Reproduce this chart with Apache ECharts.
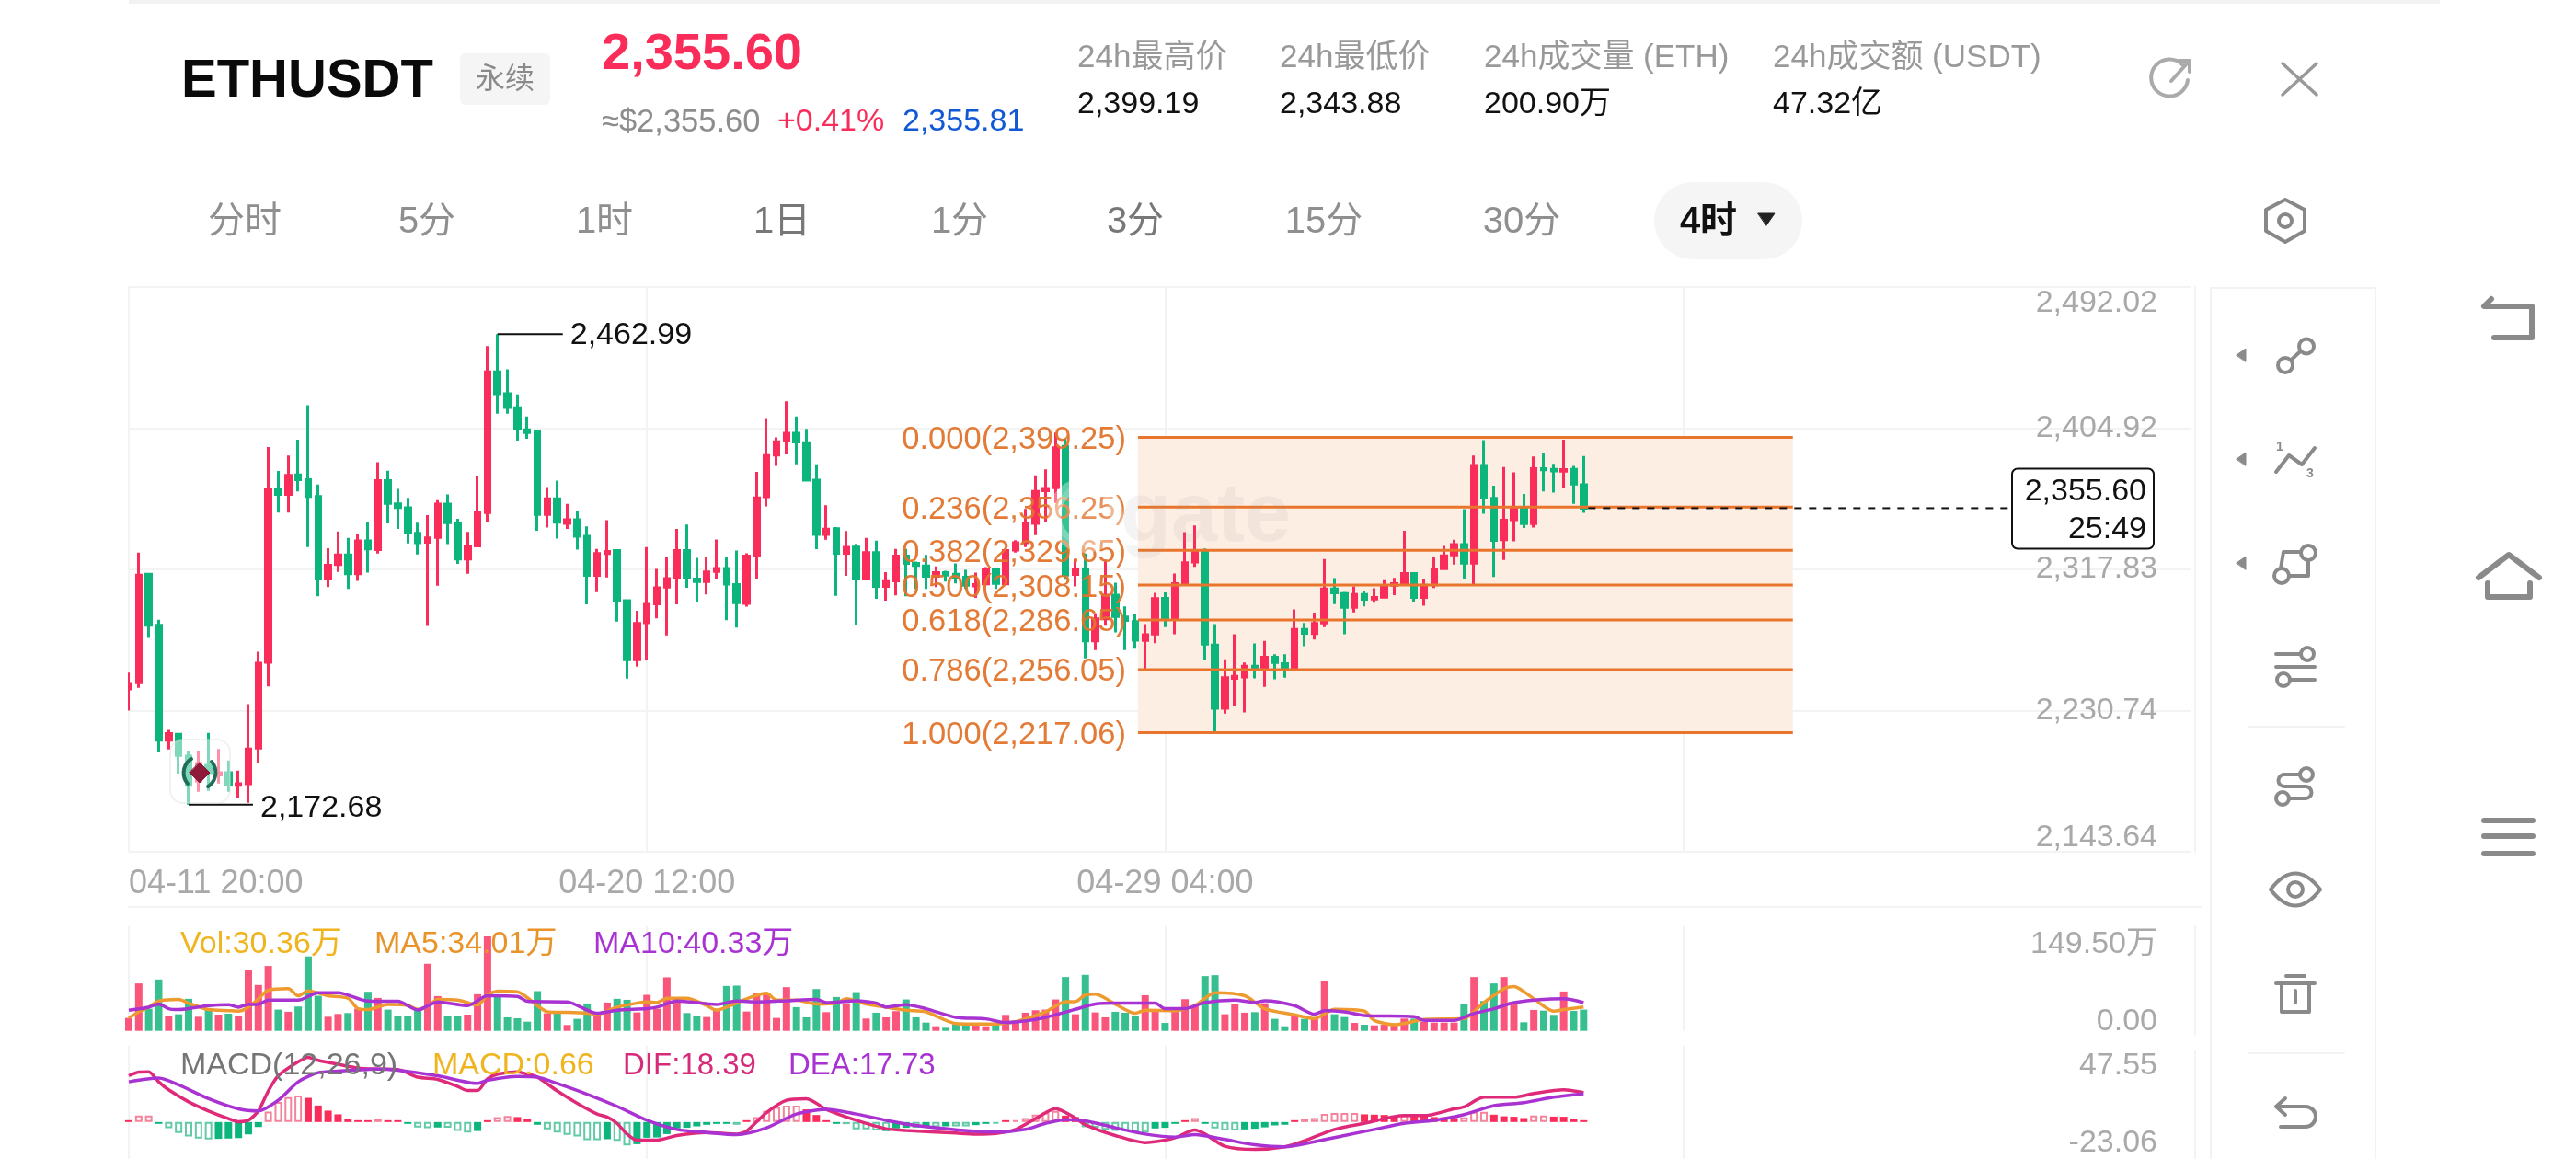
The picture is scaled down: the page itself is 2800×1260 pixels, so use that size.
<!DOCTYPE html>
<html><head><meta charset="utf-8"><style>html,body{margin:0;background:#fff}#c{width:2800px;height:1260px}</style>
<script src="https://cdn.jsdelivr.net/npm/echarts@6/dist/echarts.min.js"></script></head><body><div id="c"></div>
<script>
// [open, close, low, high]
const candles=[
[2244.1,2247.5,2230.7,2254.2],[2247.9,2314.3,2244.8,2328.2],[2314.8,2283.4,2275.5,2315.7],[2283.4,2212.5,2205.5,2286.7],[2212.5,2216.5,2206.7,2218.8],
[2216.1,2203.1,2191.9,2217.0],[2202.6,2184.7,2172.68,2206.0],[2187.4,2198.1,2180.6,2206.0],[2197.0,2192.5,2181.3,2217.0],[2191.0,2192.5,2185.8,2207.1],
[2192.5,2185.1,2180.6,2199.9],[2184.7,2185.6,2176.6,2193.7],[2185.6,2207.1,2173.9,2234.7],[2207.6,2260.0,2198.1,2267.0],[2260.5,2367.5,2245.7,2393.3],
[2367.5,2364.1,2352.9,2378.5],[2364.1,2375.8,2352.9,2388.1],[2376.2,2373.1,2365.9,2397.8],[2373.1,2362.8,2331.6,2419.1],[2362.8,2311.9,2301.3,2370.2],
[2311.9,2320.4,2306.9,2330.9],[2320.8,2326.7,2316.3,2341.2],[2326.7,2315.2,2305.8,2337.2],[2315.2,2335.4,2310.7,2339.4],[2335.4,2330.5,2315.9,2347.3],
[2330.0,2372.6,2327.6,2383.9],[2372.6,2358.5,2346.2,2378.7],[2358.3,2356.0,2342.8,2367.5],[2355.8,2340.3,2333.8,2361.9],[2340.1,2334.3,2327.1,2346.6],
[2334.5,2337.2,2282.9,2351.3],[2337.6,2358.1,2307.8,2360.5],[2358.1,2346.6,2333.4,2364.1],[2346.2,2324.2,2321.3,2349.1],[2324.2,2332.3,2315.2,2341.0],
[2332.3,2352.9,2331.4,2375.1],[2352.9,2439.7,2347.3,2455.6],[2439.7,2426.2,2413.9,2462.99],[2426.2,2417.7,2413.9,2441.3],[2417.5,2404.3,2397.3,2425.8],
[2404.0,2402.3,2398.4,2412.1],[2402.7,2351.8,2341.7,2403.4],[2351.8,2361.4,2343.7,2368.6],[2361.4,2346.9,2336.8,2372.6],[2346.2,2348.4,2342.8,2358.3],
[2348.4,2338.3,2330.0,2353.6],[2338.3,2314.1,2296.2,2344.4],[2314.1,2327.6,2303.8,2330.5],[2327.6,2328.9,2312.8,2348.2],[2329.4,2298.4,2285.6,2330.3],
[2298.6,2262.1,2250.4,2299.1],[2262.1,2284.5,2257.8,2292.3],[2284.9,2296.2,2261.8,2331.6],[2296.6,2306.5,2287.6,2318.1],[2306.9,2312.1,2277.1,2325.5],
[2312.5,2329.4,2296.2,2342.8],[2329.4,2312.5,2306.5,2345.5],[2311.9,2310.3,2297.5,2324.9],[2310.3,2316.3,2302.4,2325.8],[2316.6,2318.4,2311.9,2336.3],
[2318.4,2308.7,2286.5,2325.8],[2308.5,2297.3,2282.0,2329.4],[2296.8,2326.0,2294.8,2327.8],[2326.0,2361.9,2311.6,2378.0],[2362.6,2388.1,2356.7,2411.2],
[2388.3,2396.6,2381.6,2399.3],[2397.1,2401.8,2388.8,2421.5],[2401.8,2396.4,2382.7,2412.1],[2396.0,2372.9,2372.4,2404.5],[2372.9,2339.4,2330.3,2382.7],
[2339.4,2342.6,2336.1,2357.4],[2343.0,2327.8,2301.5,2343.9],[2327.8,2331.4,2313.9,2341.5],[2331.6,2311.9,2283.6,2333.6],[2311.9,2328.2,2311.4,2337.2],
[2328.2,2307.4,2299.7,2335.6],[2307.4,2310.3,2298.6,2316.1],[2310.7,2326.0,2301.8,2330.5],[2326.0,2321.5,2301.3,2330.5],[2321.5,2320.2,2305.8,2322.6],
[2319.9,2313.6,2305.8,2326.7],[2313.6,2315.9,2306.9,2319.7],[2315.9,2314.3,2310.3,2317.0],[2314.8,2313.0,2309.2,2321.5],[2313.0,2308.0,2305.8,2317.5],
[2307.6,2308.5,2300.2,2315.9],[2308.9,2317.5,2308.0,2319.3],[2317.5,2309.2,2305.8,2318.1],[2308.9,2329.4,2308.5,2330.5],[2329.8,2334.3,2328.2,2335.9],
[2334.3,2346.2,2331.6,2355.1],[2346.2,2365.9,2339.0,2375.8],[2366.3,2367.7,2347.4,2379.6],[2368.2,2392.8,2358.8,2402.3],[2393.7,2314.3,2311.5,2398.5],
[2314.7,2318.1,2307.3,2324.2],[2318.1,2273.7,2262.9,2327.6],[2273.7,2287.3,2268.0,2290.7],[2287.3,2302.0,2283.1,2323.8],[2302.0,2288.8,2278.9,2309.6],
[2288.4,2286.3,2268.0,2295.0],[2285.6,2274.2,2268.9,2290.1],[2274.0,2277.5,2256.1,2284.1],[2278.0,2299.8,2272.3,2303.4],[2300.0,2287.9,2282.2,2303.6],
[2287.5,2309.0,2277.8,2315.3],[2309.6,2321.9,2308.5,2340.8],[2322.3,2328.9,2319.4,2344.9],[2328.9,2271.8,2262.0,2330.8],[2271.2,2232.1,2217.06,2284.1],
[2232.1,2251.0,2228.9,2262.3],[2250.6,2251.9,2233.6,2277.8],[2251.4,2258.1,2229.6,2260.4],[2258.1,2256.6,2250.6,2272.1],[2256.6,2263.6,2245.3,2273.7],
[2263.6,2260.4,2250.0,2265.5],[2259.7,2256.6,2251.0,2265.5],[2256.6,2280.8,2256.3,2293.1],[2280.8,2278.4,2270.5,2284.8],[2278.2,2284.5,2274.6,2291.1],
[2284.8,2305.8,2282.2,2324.2],[2305.8,2303.4,2296.4,2312.4],[2303.0,2294.4,2277.8,2303.9],[2294.4,2302.4,2291.3,2307.3],[2302.4,2299.4,2295.0,2304.5],
[2299.6,2300.5,2297.3,2306.2],[2300.7,2307.7,2299.8,2311.1],[2308.1,2309.0,2302.0,2312.6],[2309.6,2315.3,2309.2,2341.6],[2315.3,2300.5,2297.5,2315.8],
[2300.5,2308.1,2295.4,2311.9],[2308.3,2318.1,2306.4,2325.8],[2318.3,2326.2,2318.1,2332.3],[2326.8,2333.2,2320.8,2336.1],[2333.2,2321.7,2312.1,2355.0],
[2321.7,2382.0,2308.3,2388.1],[2382.0,2362.0,2352.1,2397.5],[2361.6,2335.7,2313.2,2369.4],[2336.1,2348.2,2323.6,2380.9],[2348.4,2355.0,2335.1,2377.7],
[2355.0,2346.1,2343.3,2364.4],[2346.1,2379.9,2343.6,2387.5],[2379.9,2379.2,2365.9,2389.6],[2379.6,2378.6,2365.2,2383.0],[2378.4,2379.4,2367.8,2397.9],
[2379.6,2370.5,2358.2,2381.6],[2370.1,2355.60,2352.7,2387.7]];
const volumes=[18.5,67.8,31.7,73.5,20.7,23.8,45.8,20.2,32.6,23.3,24.6,22.0,86.7,65.6,92.8,30.4,27.3,34.8,106.5,50.2,20.2,24.2,25.5,31.7,55.9,47.1,30.4,22.0,20.7,29.5,95.9,49.7,21.1,21.6,23.3,52.4,135.1,50.2,19.4,18.0,13.2,56.8,25.1,25.1,8.4,17.2,39.2,25.1,40.5,45.8,44.4,26.4,51.5,31.7,76.6,44.0,25.5,20.7,19.8,31.7,64.2,64.7,27.7,53.7,54.6,18.5,62.5,33.9,19.4,59.8,26.8,48.4,39.6,55.4,17.6,26.0,19.4,28.2,44.9,19.4,11.9,6.6,4.4,9.7,10.6,8.8,6.6,8.8,22.9,14.1,26.0,29.5,30.4,44.9,77.0,23.8,80.1,26.4,19.4,27.3,26.0,20.7,51.0,29.0,11.4,29.0,45.3,36.1,78.3,79.6,23.8,37.8,26.0,26.8,39.6,17.2,6.6,22.0,17.2,17.6,71.3,23.8,19.8,11.4,8.8,7.9,8.8,7.5,17.6,17.6,12.8,11.9,11.9,11.9,38.7,77.0,42.7,67.8,77.0,39.2,12.3,29.9,29.0,22.9,56.3,28.6,30.36];
const ma5Points=[[0,18.5],[1,27.3],[2,33.9],[3,42.7],[5,44.9],[6,39.6],[8,30.4],[10,29.0],[11,28.2],[12,33.9],[13,45.8],[14,58.1],[16,60.3],[17,50.2],[18,57.2],[20,50.2],[22,46.6],[23,31.7],[24,30.4],[26,37.8],[28,36.5],[29,30.8],[30,35.2],[31,44.9],[33,44.0],[35,37.0],[36,51.5],[37,56.8],[39,55.9],[41,36.1],[42,27.3],[44,26.4],[46,25.1],[47,23.8],[49,33.9],[51,39.6],[52,41.4],[53,40.5],[54,46.6],[56,46.6],[58,36.1],[59,29.5],[60,33.9],[62,45.8],[64,53.7],[65,44.0],[67,44.0],[69,38.3],[71,39.6],[72,45.8],[74,38.3],[76,33.9],[78,29.5],[80,27.3],[83,10.6],[87,9.7],[89,13.2],[92,27.3],[94,41.8],[95,41.8],[96,51.5],[97,52.4],[99,38.3],[101,25.1],[102,29.5],[105,29.0],[107,36.1],[109,54.6],[112,50.2],[114,31.7],[117,22.9],[119,17.6],[121,30.8],[124,28.2],[125,15.0],[127,8.8],[130,16.3],[134,17.6],[136,40.5],[138,60.3],[139,63.4],[141,45.8],[143,28.2],[144,30.4],[146,34.01]];
const ma10Points=[[0,29.5],[2,33.9],[3,38.3],[4,31.7],[5,30.4],[8,36.1],[10,37.4],[11,33.9],[12,37.8],[13,37.8],[14,44.0],[17,44.0],[19,54.6],[21,54.6],[24,42.7],[27,42.2],[29,29.9],[31,41.4],[34,36.1],[36,50.2],[39,49.3],[40,42.2],[44,41.4],[47,25.1],[49,29.5],[52,31.7],[53,33.9],[55,42.7],[59,37.8],[61,42.7],[63,41.4],[66,43.1],[69,44.9],[70,40.5],[73,43.1],[75,39.6],[76,33.9],[78,37.4],[80,31.7],[83,19.4],[86,17.2],[88,11.9],[91,16.3],[93,22.9],[95,30.8],[97,38.3],[99,39.6],[103,39.6],[104,31.7],[106,31.7],[108,40.5],[111,44.0],[113,40.5],[114,43.1],[117,36.1],[119,23.8],[120,29.0],[122,27.3],[124,22.0],[129,20.2],[130,15.0],[133,15.0],[135,25.1],[137,31.7],[139,40.5],[144,45.8],[146,40.33]];
const macdHist=[0.4,4.0,4.0,-0.4,-3.8,-6.9,-9.0,-10.3,-10.9,-10.5,-10.3,-10.0,-7.7,-3.1,6.5,12.6,15.5,16.5,15.1,10.3,7.1,4.8,1.9,1.0,0.2,1.7,1.1,0.6,-0.4,-3.4,-3.8,-3.4,-3.6,-5.6,-6.5,-5.6,0.2,3.1,3.8,3.1,2.1,-1.7,-4.6,-6.5,-8.0,-9.0,-11.3,-11.3,-10.7,-11.7,-14.6,-13.8,-9.8,-9.6,-7.5,-4.0,-3.6,-2.7,-1.7,-0.6,-0.4,-1.7,0.2,3.1,6.9,9.4,10.3,10.3,7.9,4.4,1.0,-0.4,-1.3,-4.6,-4.6,-5.2,-5.9,-4.0,-3.6,-3.6,-3.3,-3.3,-2.7,-2.7,-2.7,-1.9,-0.8,-0.8,0.1,1.1,2.5,4.6,5.9,6.9,4.0,3.1,-3.3,-3.6,-4.8,-5.6,-5.6,-5.9,-6.5,-4.0,-3.6,-1.0,0.6,2.5,-0.2,-4.0,-5.2,-5.2,-4.6,-4.2,-3.3,-2.1,-1.7,0.1,1.7,2.5,5.0,5.6,5.6,5.6,4.8,4.6,4.4,4.0,4.0,3.6,3.4,3.1,2.9,2.5,2.9,6.3,6.3,4.6,3.6,3.3,2.5,4.0,4.0,3.4,3.3,2.1,0.66];
const difPoints=[[0,28.9],[1,31.2],[2,31.4],[3,25.1],[4,20.1],[6,12.6],[8,6.9],[10,2.1],[11,0.2],[12,1.1],[13,6.9],[14,19.4],[15,28.9],[17,37.6],[18,40.4],[19,38.5],[21,36.0],[23,33.7],[25,33.1],[27,32.8],[29,28.0],[31,26.6],[33,22.2],[34,19.7],[35,19.7],[36,27.0],[37,29.9],[39,31.4],[40,29.9],[41,28.0],[43,19.4],[45,11.7],[47,5.0],[48,3.1],[49,-0.8],[50,-7.5],[51,-11.3],[53,-11.3],[55,-8.4],[58,-6.5],[61,-7.5],[62,-5.6],[64,5.9],[66,13.6],[68,14.6],[70,7.9],[73,1.1],[76,-4.2],[78,-5.2],[83,-6.9],[85,-7.5],[87,-7.1],[89,-4.6],[91,2.1],[93,8.4],[95,2.5],[96,-1.7],[99,-8.4],[102,-12.8],[104,-11.3],[105,-9.8],[107,-5.0],[108,-7.5],[110,-15.1],[113,-17.1],[116,-15.5],[118,-11.7],[121,-4.6],[124,-0.8],[128,4.0],[130,4.0],[133,8.2],[134,9.4],[136,15.5],[139,15.5],[141,17.8],[144,20.1],[146,18.39]];
const deaPoints=[[0,25.1],[3,27.4],[5,23.2],[8,14.6],[11,8.2],[13,6.9],[15,13.6],[17,25.1],[19,30.8],[21,31.8],[25,33.1],[27,32.4],[31,28.9],[35,24.1],[36,26.1],[39,28.5],[41,28.0],[43,24.1],[46,17.4],[49,9.8],[52,1.1],[55,-4.6],[58,-6.5],[61,-7.9],[64,-3.6],[67,5.0],[70,7.9],[73,5.0],[76,1.1],[78,-1.3],[81,-3.6],[85,-5.9],[87,-6.3],[90,-4.6],[92,-0.8],[94,1.5],[96,0.8],[99,-3.6],[102,-7.5],[105,-9.4],[107,-7.9],[110,-10.9],[113,-14.2],[116,-15.5],[119,-12.3],[122,-8.4],[125,-4.6],[128,-0.8],[131,1.1],[134,4.6],[137,10.2],[140,12.1],[143,15.5],[146,17.73]];
const fibLevels=['0.000','0.236','0.382','0.500','0.618','0.786','1.000'];
const fibPrices=[2399.25,2356.25,2329.65,2308.15,2286.65,2256.05,2217.06];
const fibRange=[101,167];
const priceTicks=[2143.64,2230.74,2317.83,2404.92,2492.02];
const volTicks=[0,149.5];
const macdTicks=[-23.06,47.55];
const highMark=[37,2462.99], lowMark=[6,2172.68];
const lastPrice=[146,2355.60], countdown='25:49';
const xLabelStep=52, slotCount=208;

const FONT='"Liberation Sans","Noto Sans CJK SC",sans-serif';
const RED='#FA2C5A',GREEN='#0BB57B',GREY='#A9A9A9',ICON='#8A8A8A',GRID='#F3F3F3';
const fmt=v=>v.toLocaleString('en-US',{minimumFractionDigits:2,maximumFractionDigits:2});
const categories=[];
for(let i=0;i<slotCount;i++){const d=new Date(Date.UTC(2024,3,11,20)+i*4*3600e3);
  const p=n=>String(n).padStart(2,'0');categories.push(p(d.getUTCMonth()+1)+'-'+p(d.getUTCDate())+' '+p(d.getUTCHours())+':00');}

const G=[];
const T=(text,x,y,size,fill,o={})=>G.push({type:'text',z:50,style:{text,x,y:y+3,fill,font:(o.bold?'bold ':'')+size+'px '+FONT,textAlign:o.align||'left',textVerticalAlign:'middle'}});
const P=(d,o={})=>{const name='ico'+G.length;echarts.graphic.registerShape(name,echarts.graphic.extendPath(d,{}));
  G.push({type:name,z:o.z||50,shape:{},style:{fill:o.fill||'none',stroke:o.stroke===undefined?ICON:o.stroke,lineWidth:o.w||4,lineCap:'round',lineJoin:'round'}});};
const C=(cx,cy,r,o={})=>G.push({type:'circle',z:o.z||50,shape:{cx,cy,r},style:{fill:o.fill||'#fff',stroke:o.stroke||ICON,lineWidth:o.w||4}});
const R=(x,y,width,height,r,fill,o={})=>G.push({type:'rect',z:o.z||1,shape:{x,y,width,height,r},style:{fill,stroke:o.stroke||null,lineWidth:o.w||1}});
// page frame
R(140,0,2512,4,0,'#F2F2F2');
R(118,320,21,600,0,'#FFFFFF',{z:40});
P('M140 986L2392 986',{stroke:GRID,w:2,z:1});
P('M2386 312L2386 926M2386 1007L2386 1125M2386 1142L2386 1260',{stroke:GRID,w:2,z:1});
P('M2403 314L2403 1260M2582 314L2582 1260M2403 313L2582 313',{stroke:'#F2F2F2',w:2,z:1});
P('M2444 790L2548 790M2444 1145L2548 1145',{stroke:'#F2F2F2',w:2,z:1});
// header
T('ETHUSDT',197,86,58,'#0A0A0A',{bold:true});
R(500,58,98,56,6,'#F5F5F5');
T('永续',549,84,32,'#8A8A8A',{align:'center'});
T('2,355.60',654,57,56,RED,{bold:true});
T('≈$2,355.60',654,130,34.5,'#8D8D8D');
T('+0.41%',845,130,34,RED);
T('2,355.81',981,130,34,'#1158D6');
[['24h最高价','2,399.19',1171],['24h最低价','2,343.88',1391],['24h成交量 (ETH)','200.90万',1613],['24h成交额 (USDT)','47.32亿',1927]].forEach(r=>{T(r[0],r[2],60,35,'#999');T(r[1],r[2],111,34,'#111');});
P('M2372 70A20 20 0 1 0 2378 87M2360 88L2378 68M2368 66L2380 66L2380 78',{stroke:'#AAA'});
P('M2481 69L2518 103M2518 69L2481 103',{stroke:'#999',w:3.5});
// tabs
[['分时',266],['5分',464],['1时',657],['1日',850],['1分',1043],['3分',1234],['15分',1439],['30分',1654]].forEach(r=>T(r[0],r[1],239,40,(r[0]=='1日'||r[0]=='3分')?'#777':'#8F8F8F',{align:'center'}));
R(1798,198,161,84,42,'#F5F5F5');
T('4时',1857,239,40,'#111',{align:'center',bold:true});
P('M1911 232L1929 232L1920 245Z',{fill:'#222',stroke:'#222',w:1});
P('M2484 217L2505 228L2505 251L2484 263L2463 251L2463 228Z',{stroke:'#888'});
C(2484,240,7,{stroke:'#888'});
// toolbar
[386,499,612].forEach(y=>P(`M2431 ${y}L2441 ${y-7}L2441 ${y+7}Z`,{fill:ICON,w:1}));
P('M2484 397L2507 376');C(2507,376.5,8);C(2484,397,8);
P('M2474 513L2488 495L2502 505L2516 487');T('1',2478,483,14,ICON,{bold:true,align:'center'});T('3',2511,512,14,ICON,{bold:true,align:'center'});
P('M2479 618L2482 600L2501 600M2509 609L2509 626L2488 626');C(2509,601,8);C(2480,626,8);
P('M2474 711L2501 711M2474 725L2516 725M2489 739L2516 739');C(2508,711,7);C(2482,739,7);
P('M2499 842L2483 842A6.5 6.5 0 0 0 2483 855L2506 855A6.5 6.5 0 0 1 2506 868L2489 868');C(2507,842,7);C(2481,868,7);
P('M2468 967Q2495 932 2522 967Q2495 1002 2468 967Z');C(2495,967,8);
P('M2474 1069L2516 1069M2485 1061L2505 1061M2480 1069L2480 1100L2510 1100L2510 1069M2495 1077L2495 1090');
P('M2484 1194L2474 1203L2484 1212M2474 1203L2506 1203A11 11 0 0 1 2506 1225L2479 1225');
// phone nav
P('M2708 325L2700 333L2752 333L2752 367L2711 367',{w:6});
P('M2694 628L2727 603L2760 628M2704 634L2704 649L2750 649L2750 634',{w:6});
P('M2700 892L2753 892M2700 909L2753 909M2700 928L2753 928',{w:6});
// panel legends
T('Vol:30.36万',196,1024,34,'#F0B41E');T('MA5:34.01万',407,1024,34,'#E9942A');T('MA10:40.33万',645,1024,34,'#A832D2');
T('MACD(12,26,9)',196,1156,34,'#757575');T('MACD:0.66',470,1156,34,'#F0B41E');T('DIF:18.39',677,1156,33,'#D62B7A');T('DEA:17.73',857,1156,33,'#A832D2');
// exchange watermarks
T('gate',1218,560,90,'rgba(150,150,150,0.10)',{bold:true});
C(1180,560,34,{fill:'rgba(255,255,255,0.18)',stroke:'rgba(255,255,255,0.35)',w:14,z:50});
R(185,804,65,69,14,'rgba(255,255,255,0.48)',{z:40,stroke:'rgba(225,225,225,0.45)',w:2});
P('M217 829L228 840L217 851L206 840Z',{fill:'#8E1A3A',stroke:'#8E1A3A',w:1,z:41});
P('M204 852A18 18 0 0 1 208 825M230 828A18 18 0 0 1 226 855',{stroke:'#1F6E57',w:4,z:41});

const axisY=(gridIndex,min,max,ticks,size,margin,text,split,topLH,botLH)=>({type:'value',gridIndex,position:'right',min,max,
  axisLine:{show:false},axisTick:{show:false,customValues:ticks},
  axisLabel:{customValues:ticks,inside:true,margin,color:GREY,fontSize:size,fontFamily:FONT,verticalAlignMinLabel:'bottom',verticalAlignMaxLabel:'top',
    formatter:v=>{const k=v===max?'t':v===min?'b':'m';return '{'+k+'|'+text(v)+'}';},
    rich:{t:{lineHeight:topLH,fontSize:size,color:GREY,fontFamily:FONT},b:{lineHeight:botLH,fontSize:size,color:GREY,fontFamily:FONT},m:{fontSize:size,color:GREY,fontFamily:FONT}}},
  splitLine:{show:split,lineStyle:{color:GRID,width:2}}});
const axisX=(gridIndex,showLabel)=>({type:'category',gridIndex,data:categories,boundaryGap:false,axisLine:{show:false},axisTick:{show:false},
  axisLabel:{show:showLabel,color:GREY,fontSize:36,fontFamily:FONT,margin:17,alignMinLabel:'left',showMinLabel:true,interval:i=>i%xLabelStep===0&&i<=2*xLabelStep},
  splitLine:{show:true,interval:i=>i%xLabelStep===0,lineStyle:{color:GRID,width:2}}});
const isUp=i=>candles[i][1]>=candles[i][0];

const band={type:'custom',xAxisIndex:0,yAxisIndex:0,z:1,silent:true,data:[[fibRange[0],fibRange[1],fibPrices[0],fibPrices[6]]],
  renderItem:(p,api)=>{const a=api.coord([api.value(0),api.value(2)]),b=api.coord([api.value(1),api.value(3)]);
    return {type:'rect',shape:{x:a[0]+3,y:a[1],width:b[0]-a[0]-3,height:b[1]-a[1]},style:{fill:'#FDEEE4'}};}};
const fibs={type:'custom',xAxisIndex:0,yAxisIndex:0,z:6,silent:true,clip:false,data:fibPrices.map((p,i)=>[fibRange[0],fibRange[1],p,fibLevels[i]]),
  renderItem:(p,api)=>{const a=api.coord([api.value(0),api.value(2)]),b=api.coord([api.value(1),api.value(2)]);
    const i=p.dataIndex;
    return {type:'group',children:[
      {type:'line',shape:{x1:a[0]+3,y1:a[1],x2:b[0],y2:b[1]},style:{stroke:'#E9742B',lineWidth:3}},
      {type:'text',style:{text:fibLevels[i]+'('+fmt(fibPrices[i])+')',x:a[0]-10,y:a[1]+3,textAlign:'right',textVerticalAlign:'middle',fill:'rgba(226,116,44,0.95)',font:'34.5px '+FONT}}]};}};
const marks={type:'custom',xAxisIndex:0,yAxisIndex:0,z:7,silent:true,clip:false,data:[[highMark[0],highMark[1],1],[lowMark[0],lowMark[1],0]],
  renderItem:(p,api)=>{const a=api.coord([api.value(0),api.value(1)]);const up=api.value(2)===1;
    const len=up?71:70;
    return {type:'group',children:[
      {type:'line',shape:{x1:a[0],y1:a[1],x2:a[0]+len,y2:a[1]},style:{stroke:'#111',lineWidth:2}},
      {type:'text',style:{text:fmt(api.value(1)),x:a[0]+len+8,y:a[1]+(up?1:4),textAlign:'left',textVerticalAlign:'middle',fill:'#111',font:'34px '+FONT}}]};}};
const last={type:'custom',xAxisIndex:0,yAxisIndex:0,z:8,silent:true,clip:false,data:[lastPrice],
  renderItem:(p,api)=>{const a=api.coord([api.value(0),api.value(1)]);const w=p.coordSys.x+p.coordSys.width;
    const bx=w-195,bw=154;
    return {type:'group',children:[
      {type:'line',shape:{x1:a[0]+5,y1:a[1],x2:bx,y2:a[1]},style:{stroke:'#111',lineWidth:2,lineDash:[8,8]}},
      {type:'rect',shape:{x:bx,y:a[1]-43,width:bw,height:87,r:6},style:{fill:'#fff',stroke:'#111',lineWidth:2}},
      {type:'text',style:{text:fmt(api.value(1)),x:bx+bw-8,y:a[1]-18,textAlign:'right',textVerticalAlign:'middle',fill:'#111',font:'34px '+FONT}},
      {type:'text',style:{text:countdown,x:bx+bw-8,y:a[1]+23,textAlign:'right',textVerticalAlign:'middle',fill:'#111',font:'34px '+FONT}}]};}};
const line=(data,color,xi,yi)=>({type:'line',xAxisIndex:xi,yAxisIndex:yi,data,showSymbol:false,symbol:'none',smooth:0.25,z:4,silent:true,lineStyle:{color,width:3.5}});

const option={animation:false,backgroundColor:'#fff',
  grid:[{left:140,top:312,width:2242,height:614},{left:140,top:1007,width:2242,height:113.7},{left:140,top:1137,width:2242,height:123}],
  xAxis:[axisX(0,true),axisX(1,false),axisX(2,false)],
  yAxis:[axisY(0,2143.64,2492.02,priceTicks,34,37,fmt,true,36,30),
    axisY(1,0,149.5,volTicks,34,37,v=>v===0?'0.00':v.toFixed(2)+'万',false,40,20),
    axisY(2,-23.06,47.55,macdTicks,34,37,v=>v.toFixed(2),false,44,34)],
  graphic:{elements:G},
  series:[band,
    {type:'candlestick',xAxisIndex:0,yAxisIndex:0,z:2,silent:true,data:candles,barWidth:6,clip:true,
      itemStyle:{color:RED,color0:GREEN,borderColor:RED,borderColor0:GREEN,borderWidth:3}},
    fibs,marks,last,
    {type:'bar',xAxisIndex:1,yAxisIndex:1,barWidth:8,z:2,silent:true,
      data:volumes.map((v,i)=>({value:v,itemStyle:{color:isUp(i)?'#FA567B':'#38BF90'}}))},
    line(ma5Points,'#EE9A2E',1,1),line(ma10Points,'#A832D2',1,1),
    {type:'bar',xAxisIndex:2,yAxisIndex:2,barWidth:8,barMinHeight:2,z:2,silent:true,
      data:macdHist.map((v,i)=>{const up=v>=0,hollow=i>0&&Math.abs(v)>=Math.abs(macdHist[i-1]);
        return {value:v,itemStyle:hollow?{color:'rgba(255,255,255,0)',borderColor:up?'#F4849C':'#62CAA5',borderWidth:2}:{color:up?RED:GREEN}};})},
    line(difPoints,'#DE2A78',2,2),line(deaPoints,'#A832D2',2,2)]};
echarts.init(document.getElementById('c'),null,{renderer:'canvas'}).setOption(option);
</script></body></html>
